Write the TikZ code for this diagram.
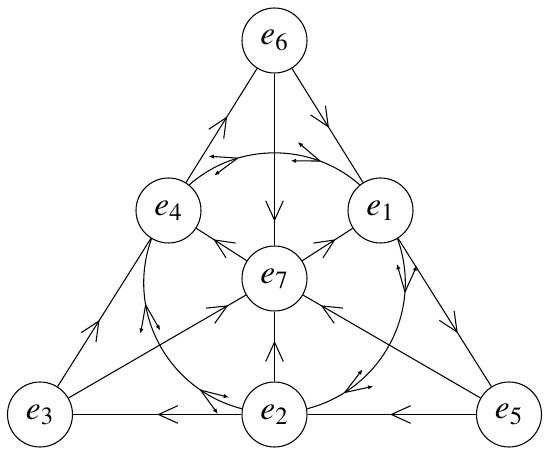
\documentclass[tikz,border=0pt]{standalone}
\usepackage{mathptmx}
\usetikzlibrary{arrows.meta,decorations.markings}

% two long barbs with small tips, used on the circle arcs
\newcommand{\arcbarb}{%
    \draw[-{Latex[length=3pt,width=2.5pt]}] (0,0) -- (-0.55,0.2);
    \draw[-{Latex[length=3pt,width=2.5pt]}] (0,0) -- (-0.55,-0.2);}

\begin{document}
\begin{tikzpicture}[line width=0.6pt,
        unit/.style={circle,draw,fill=white,minimum size=1.3cm,inner sep=0pt,
            font=\fontsize{19}{22}\selectfont},
        barb/.tip={Straight Barb[length=11pt,width=10pt]},
        midarrow/.style={postaction={decorate},
            decoration={markings,mark=at position #1 with {\arrow{barb}}}},
        arcarrows/.style 2 args={postaction={decorate},
            decoration={markings,mark=at position #1 with {\arcbarb},
                mark=at position #2 with {\arcbarb}}}]
    \useasboundingbox (0,0) rectangle (11,9.04);

    % the seven units
    \node[unit] (e6) at (5.49,8.23) {$e_6$};
    \node[unit] (e4) at (3.37,4.83) {$e_4$};
    \node[unit] (e1) at (7.61,4.83) {$e_1$};
    \node[unit] (e7) at (5.49,3.47) {$e_7$};
    \node[unit] (e3) at (0.8,0.75) {$e_3$};
    \node[unit] (e2) at (5.49,0.75) {$e_2$};
    \node[unit] (e5) at (10.18,0.75) {$e_5$};

    % outer triangle
    \draw[midarrow=0.45] (e3) -- (e4);
    \draw[midarrow=0.58] (e4) -- (e6);
    \draw[midarrow=0.52] (e6) -- (e1);
    \draw[midarrow=0.64] (e1) -- (e5);
    \draw[midarrow=0.51] (e5) -- (e2);
    \draw[midarrow=0.5] (e2) -- (e3);

    % lines through the centre
    \draw[midarrow=0.86] (e6) -- (e7);
    \draw[midarrow=0.58] (e2) -- (e7);
    \draw[midarrow=0.66] (e7) -- (e4);
    \draw[midarrow=0.66] (e7) -- (e1);
    \draw[midarrow=0.9] (e3) -- (e7);
    \draw[midarrow=0.9] (e5) -- (e7);

    % inner circle
    \draw[arcarrows={0.30}{0.75}] (e4.51) to[out=41.4,in=138.6,looseness=0.97] (e1.129);
    \draw[arcarrows={0.25}{0.81}] (e1.-59) to[out=-70.1,in=14.4,looseness=1.02] (e2.10);
    \draw[arcarrows={0.21}{0.69}] (e2.170) to[out=165.6,in=250.1,looseness=1.02] (e4.-121);
\end{tikzpicture}
\end{document}
